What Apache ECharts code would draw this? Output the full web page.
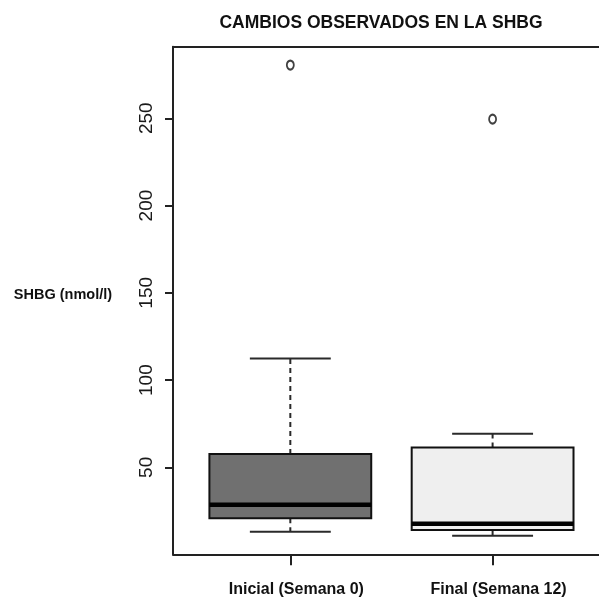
<!DOCTYPE html>
<html>
<head>
<meta charset="utf-8">
<script src="https://cdn.jsdelivr.net/npm/echarts@6/dist/echarts.min.js"></script>
<style>
  html, body { margin: 0; padding: 0; background: #fff; }
  #chart { width: 599px; height: 598px; }
</style>
</head>
<body>
<div id="chart"></div>
<script>
// SHBG (nmol/l) at baseline and after 12 weeks
const categories = ['Inicial (Semana 0)', 'Final (Semana 12)'];
const whiskerLow = [13.1, 10.8];
const q1 = [20.8, 14.1];
const median = [28.6, 17.7];
const q3 = [57.6, 61.4];
const whiskerHigh = [112.4, 69.2];
const outlierGroup = [1, 2];
const outlierValue = [280.5, 249.5];
const boxFill = ['#707070', '#efefef'];
const yTicks = [50, 100, 150, 200, 250];
const xTicks = [1, 2];

const FONT = '"Liberation Sans", Arial, sans-serif';
const X_MIN = 0.42, X_MAX = 2.526;   // the frame runs on past the right edge of the canvas

const boxData = categories.map((c, i) => [i + 1, whiskerLow[i], q1[i], median[i], q3[i], whiskerHigh[i]]);
const outlierData = outlierGroup.map((g, i) => [g, outlierValue[i]]);

function renderBox(params, api) {
  const x = api.value(0);
  const lo = api.value(1), b1 = api.value(2), md = api.value(3), b3 = api.value(4), hi = api.value(5);
  const half = 0.4, capHalf = 0.2;
  const pL = api.coord([x - half, b3]);
  const pR = api.coord([x + half, b1]);
  const pc = (v) => api.coord([x, v]);
  const cL = api.coord([x - capHalf, 0])[0];
  const cR = api.coord([x + capHalf, 0])[0];
  const cx = pc(md)[0];
  const whiskerStyle = { stroke: '#2a2a2a', lineWidth: 2, lineDash: [5, 4] };
  const capStyle = { stroke: '#2a2a2a', lineWidth: 2 };
  return {
    type: 'group',
    children: [
      { type: 'line', shape: { x1: cx, y1: pc(b3)[1], x2: cx, y2: pc(hi)[1] }, style: whiskerStyle },
      { type: 'line', shape: { x1: cx, y1: pc(b1)[1], x2: cx, y2: pc(lo)[1] }, style: whiskerStyle },
      { type: 'line', shape: { x1: cL, y1: pc(hi)[1], x2: cR, y2: pc(hi)[1] }, style: capStyle },
      { type: 'line', shape: { x1: cL, y1: pc(lo)[1], x2: cR, y2: pc(lo)[1] }, style: capStyle },
      {
        type: 'rect',
        shape: { x: pL[0], y: pL[1], width: pR[0] - pL[0], height: pR[1] - pL[1] },
        style: { fill: boxFill[params.dataIndex], stroke: '#111', lineWidth: 2 }
      },
      { type: 'line', shape: { x1: pL[0], y1: pc(md)[1], x2: pR[0], y2: pc(md)[1] }, style: { stroke: '#000', lineWidth: 4.5 } }
    ]
  };
}

const frameLine = { show: true, onZero: false, lineStyle: { color: '#222', width: 2 } };

const chart = echarts.init(document.getElementById('chart'), null, { renderer: 'canvas' });
chart.setOption({
  backgroundColor: '#ffffff',
  animation: false,
  grid: { left: 173, right: 0, top: 46.7, bottom: 43.7 },
  graphic: [
    {
      type: 'text', x: 381, y: 23,
      style: { text: 'CAMBIOS OBSERVADOS EN LA SHBG', font: 'bold 17.5px ' + FONT, fill: '#111', align: 'center', verticalAlign: 'middle' }
    },
    {
      type: 'text', x: 63, y: 295,
      style: { text: 'SHBG (nmol/l)', font: 'bold 14.5px ' + FONT, fill: '#111', align: 'center', verticalAlign: 'middle' }
    }
  ],
  xAxis: [
    {
      type: 'value', min: X_MIN, max: X_MAX, position: 'bottom',
      splitLine: { show: false },
      axisLine: frameLine,
      axisTick: { show: true, customValues: xTicks, length: 11, lineStyle: { color: '#222', width: 2 } },
      axisLabel: {
        customValues: xTicks, margin: 27, padding: [0, 0, 0, 12],
        formatter: (v) => categories[Math.round(v) - 1] || '',
        fontFamily: FONT, fontWeight: 'bold', fontSize: 16, color: '#111'
      }
    },
    {
      type: 'value', min: X_MIN, max: X_MAX, position: 'top',
      splitLine: { show: false },
      axisLine: frameLine,
      axisTick: { show: false },
      axisLabel: { show: false }
    }
  ],
  yAxis: {
    type: 'value', min: 0.2, max: 291,
    splitLine: { show: false },
    axisLine: frameLine,
    axisTick: { show: true, customValues: yTicks, length: 8, lineStyle: { color: '#222', width: 2 } },
    axisLabel: {
      customValues: yTicks, rotate: 90, margin: 17,
      fontFamily: FONT, fontSize: 19, color: '#1a1a1a'
    }
  },
  series: [
    {
      type: 'custom', name: 'SHBG',
      renderItem: renderBox,
      encode: { x: 0, y: [1, 2, 3, 4, 5] },
      data: boxData,
      z: 2
    },
    {
      type: 'scatter', name: 'atípicos',
      symbol: 'emptyCircle', symbolSize: [7, 9],
      itemStyle: { color: '#111', borderColor: '#111', borderWidth: 1.6 },
      data: outlierData,
      z: 3
    }
  ]
});
</script>
</body>
</html>
